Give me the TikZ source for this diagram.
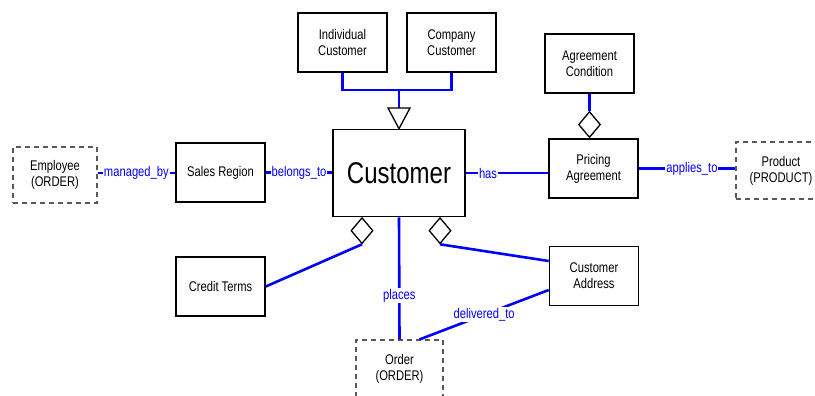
\documentclass[tikz,border=0pt]{standalone}
\usepackage{fontspec}
\setmainfont{Liberation Sans}[FakeStretch=0.8]
\usetikzlibrary{shapes.geometric}
\definecolor{linkblue}{RGB}{0,0,255}
\begin{document}
\begin{tikzpicture}[x=1pt,y=-1pt,
  entity/.style={draw=black,line width=1.6pt,fill=white,align=center,
    minimum width=89pt,minimum height=59pt,inner sep=1pt,
    font=\fontsize{14}{16}\selectfont},
  ext/.style={draw=black!65,dash pattern=on 5pt off 4pt,line width=1.1pt,
    fill=white,align=center,inner sep=1pt,font=\fontsize{14}{16}\selectfont},
  conn/.style={draw=linkblue,line width=2.6pt},
  lab/.style={text=linkblue,fill=white,inner sep=1pt,
    font=\fontsize{14}{16}\selectfont},
  agg/.style={diamond,draw=black,line width=1.3pt,fill=white,
    minimum width=22pt,minimum height=26pt,inner sep=0pt},
]
\useasboundingbox (0,0) rectangle (815,396);
\clip (0,0) rectangle (815,396);

% entities
\node[entity] (ind)   at (342.5,42.5) {Individual\\Customer};
\node[entity] (comp)  at (451.5,42.5) {Company\\Customer};
\node[entity,minimum width=132pt,minimum height=87pt,
      font=\fontsize{30}{32}\selectfont] (cust) at (399,173) {Customer};
\node[entity] (cond)  at (589.5,63.5) {Agreement\\Condition};
\node[entity] (price) at (593.5,168.5) {Pricing\\Agreement};
\node[entity] (sales) at (220.5,172.5) {Sales Region};
\node[entity] (credit) at (220.5,286.5) {Credit Terms};
\node[entity] (addr)  at (594,276) {Customer\\Address};

% external references
\node[ext,minimum width=84pt,minimum height=56pt] (emp) at (55,175) {Employee\\(ORDER)};
\node[ext,minimum width=90pt,minimum height=57pt] (prod) at (781,170.5) {Product\\(PRODUCT)};
\node[ext,minimum width=87pt,minimum height=62pt,text depth=8pt] (order) at (399.5,371) {Order\\(ORDER)};

% generalisation: subtypes joined to the supertype
\coordinate (bus) at (399,90);
\coordinate (tritop) at (399,108);
\draw[conn] (ind.south) |- (bus) -| (comp.south);
\draw[conn] (bus) -- (tritop);
\draw[line width=1.3pt,fill=white] (388,108) -- (410,108) -- (cust.north) -- cycle;

% aggregation diamonds
\node[agg,anchor=south] (dmcond) at (cond.south |- price.north) {};
\node[agg,anchor=north] (dmcred) at (362,217) {};
\node[agg,anchor=north] (dmaddr) at (440,217) {};

% relationships
\draw[conn] (cond.south) -- (dmcond.north);
\draw[conn] (dmcred.south) -- (credit.east);
\draw[conn] (dmaddr.south) -- ([yshift=15pt]addr.west);
\draw[conn,line width=2pt] (emp.east |- sales.west) -- node[lab]{managed\_by} (sales.west);
\draw[conn] (sales.east) -- node[lab]{belongs\_to} (cust.west |- sales.east);
\draw[conn] (cust.east) -- node[lab,pos=0.27]{has} (price.west |- cust.east);
\draw[conn] (price.east) -- node[lab,pos=0.55]{applies\_to} (prod.west |- price.east);
\draw[conn] (cust.south) -- node[lab,pos=0.64]{places} (order.north);
\draw[conn] ([yshift=-14pt]addr.west) -- node[lab,pos=0.5]{delivered\_to} ([xshift=20pt]order.north);
\end{tikzpicture}
\end{document}
